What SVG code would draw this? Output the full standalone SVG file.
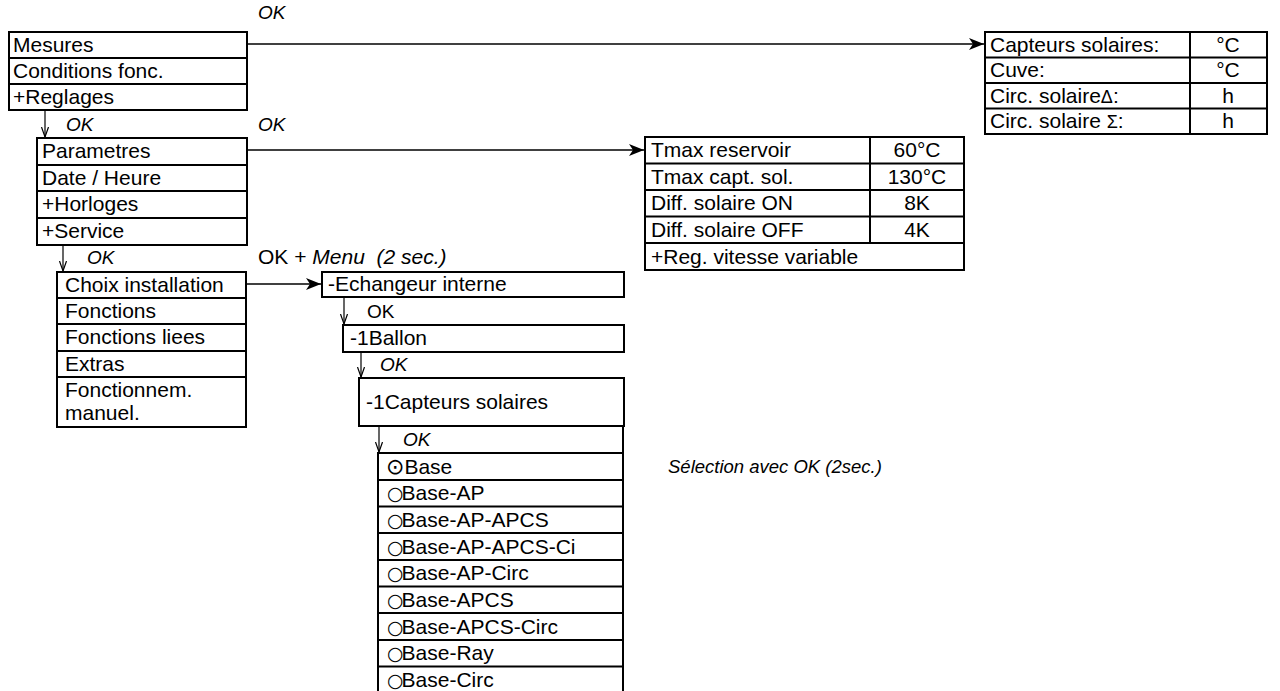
<svg xmlns="http://www.w3.org/2000/svg" width="1280" height="691" viewBox="0 0 1280 691">
<style>
  text { font-family: "Liberation Sans", Arial, sans-serif; font-size: 21px; fill: #000; }
  .it { font-style: italic; }
  .ok { font-size: 19px; }
  .note { font-size: 18.5px; font-style: italic; }
  .c { text-anchor: middle; }
  .box { fill: #fff; stroke: #000; stroke-width: 2; }
  .ln { stroke: #000; stroke-width: 2; fill: none; }
  .conn { stroke: #000; stroke-width: 1.6; fill: none; }
  .thin { stroke: #000; stroke-width: 1.2; fill: none; }
  .sym { font-family: "DejaVu Sans", sans-serif; font-size: 19px; }
  .symd { font-family: "DejaVu Sans", sans-serif; font-size: 22px; }
  .gk { font-size: 18px; }
</style>
<defs>
  <marker id="ah" markerUnits="userSpaceOnUse" markerWidth="16" markerHeight="12" refX="15" refY="6" orient="auto">
    <path d="M0,0 L15,6 L0,12 L4,6 Z" fill="#000"/>
  </marker>
  <marker id="dv" markerUnits="userSpaceOnUse" markerWidth="12" markerHeight="10" refX="10" refY="4" orient="auto">
    <path d="M0,0.5 L10,4 L0,7.5" fill="none" stroke="#000" stroke-width="1.2"/>
  </marker>
</defs>
<rect width="1280" height="691" fill="#fff"/>

<g id="connectors">
  <line class="conn" x1="247" y1="44" x2="984" y2="44" marker-end="url(#ah)"/>
  <line class="conn" x1="247" y1="150" x2="644" y2="150" marker-end="url(#ah)"/>
  <line class="conn" x1="246" y1="284" x2="321" y2="284" marker-end="url(#ah)"/>
  <line class="thin" x1="45" y1="110" x2="45" y2="137" marker-end="url(#dv)"/>
  <line class="thin" x1="63" y1="245" x2="63" y2="271" marker-end="url(#dv)"/>
  <line class="thin" x1="344" y1="297" x2="344" y2="324" marker-end="url(#dv)"/>
  <line class="thin" x1="361" y1="352" x2="361" y2="377" marker-end="url(#dv)"/>
  <line class="thin" x1="379" y1="426" x2="379" y2="452" marker-end="url(#dv)"/>
</g>

<g id="labels">
  <text class="it ok" x="258" y="19">OK</text>
  <text class="it ok" x="66" y="131">OK</text>
  <text class="it ok" x="258" y="131">OK</text>
  <text class="it ok" x="87" y="264">OK</text>
  <text x="258" y="264">OK + <tspan class="it">Menu&#160; (2 sec.)</tspan></text>
  <text class="ok" x="367" y="318">OK</text>
  <text class="it ok" x="380" y="371">OK</text>
  <text class="it ok" x="403" y="446">OK</text>
  <text class="note" x="668" y="473">Sélection avec OK (2sec.)</text>
</g>

<g id="menu-main">
  <rect class="box" x="9" y="32" width="238" height="78"/>
  <line class="ln" x1="9" y1="58" x2="247" y2="58"/>
  <line class="ln" x1="9" y1="84" x2="247" y2="84"/>
  <text x="13" y="52">Mesures</text>
  <text x="13" y="78">Conditions fonc.</text>
  <text x="13" y="104">+Reglages</text>
</g>

<g id="mesures-table">
  <rect class="box" x="985" y="32" width="282" height="102"/>
  <line class="ln" x1="985" y1="57.5" x2="1267" y2="57.5"/>
  <line class="ln" x1="985" y1="83" x2="1267" y2="83"/>
  <line class="ln" x1="985" y1="108.5" x2="1267" y2="108.5"/>
  <line class="ln" x1="1190" y1="32" x2="1190" y2="134"/>
  <text x="990" y="52">Capteurs solaires:</text>
  <text x="990" y="77">Cuve:</text>
  <text x="990" y="103">Circ. solaire<tspan class="gk">Δ</tspan>:</text>
  <text x="990" y="128">Circ. solaire <tspan class="gk">Σ</tspan>:</text>
  <text class="c" x="1228" y="52">°C</text>
  <text class="c" x="1228" y="77">°C</text>
  <text class="c" x="1228" y="103">h</text>
  <text class="c" x="1228" y="128">h</text>
</g>

<g id="menu-reglages">
  <rect class="box" x="37" y="138" width="210" height="107"/>
  <line class="ln" x1="37" y1="165" x2="247" y2="165"/>
  <line class="ln" x1="37" y1="191" x2="247" y2="191"/>
  <line class="ln" x1="37" y1="218" x2="247" y2="218"/>
  <text x="42" y="158">Parametres</text>
  <text x="42" y="185">Date / Heure</text>
  <text x="42" y="211">+Horloges</text>
  <text x="42" y="238">+Service</text>
</g>

<g id="parametres-table">
  <rect class="box" x="645" y="137" width="319" height="133"/>
  <line class="ln" x1="645" y1="163.5" x2="964" y2="163.5"/>
  <line class="ln" x1="645" y1="190" x2="964" y2="190"/>
  <line class="ln" x1="645" y1="216.5" x2="964" y2="216.5"/>
  <line class="ln" x1="645" y1="243" x2="964" y2="243"/>
  <line class="ln" x1="870" y1="137" x2="870" y2="243"/>
  <text x="651" y="157">Tmax reservoir</text>
  <text x="651" y="184">Tmax capt. sol.</text>
  <text x="651" y="210">Diff. solaire ON</text>
  <text x="651" y="237">Diff. solaire OFF</text>
  <text x="651" y="264">+Reg. vitesse variable</text>
  <text class="c" x="917" y="157">60°C</text>
  <text class="c" x="917" y="184">130°C</text>
  <text class="c" x="917" y="210">8K</text>
  <text class="c" x="917" y="237">4K</text>
</g>

<g id="menu-service">
  <rect class="box" x="57" y="272" width="189" height="155"/>
  <line class="ln" x1="57" y1="298" x2="246" y2="298"/>
  <line class="ln" x1="57" y1="324" x2="246" y2="324"/>
  <line class="ln" x1="57" y1="351" x2="246" y2="351"/>
  <line class="ln" x1="57" y1="377" x2="246" y2="377"/>
  <text x="65" y="292">Choix installation</text>
  <text x="65" y="318">Fonctions</text>
  <text x="65" y="344">Fonctions liees</text>
  <text x="65" y="371">Extras</text>
  <text x="65" y="397">Fonctionnem.</text>
  <text x="65" y="420">manuel.</text>
</g>

<g id="echangeur">
  <rect class="box" x="322" y="272" width="302" height="25"/>
  <text x="328" y="291">-Echangeur interne</text>
</g>

<g id="ballon">
  <rect class="box" x="343" y="325" width="281" height="27"/>
  <text x="350" y="345">-1Ballon</text>
</g>

<g id="capteurs">
  <rect class="box" x="359" y="378" width="265" height="48"/>
  <text x="366" y="409">-1Capteurs solaires</text>
</g>

<g id="installations">
  <line class="ln" x1="623" y1="426" x2="623" y2="453"/>
  <rect class="box" x="378" y="453" width="245" height="245"/>
  <line class="ln" x1="378" y1="480" x2="623" y2="480"/>
  <line class="ln" x1="378" y1="506.5" x2="623" y2="506.5"/>
  <line class="ln" x1="378" y1="533" x2="623" y2="533"/>
  <line class="ln" x1="378" y1="560" x2="623" y2="560"/>
  <line class="ln" x1="378" y1="586.5" x2="623" y2="586.5"/>
  <line class="ln" x1="378" y1="613" x2="623" y2="613"/>
  <line class="ln" x1="378" y1="640" x2="623" y2="640"/>
  <line class="ln" x1="378" y1="666.5" x2="623" y2="666.5"/>
  <text x="386" y="474"><tspan class="symd">⊙</tspan><tspan dx="0">Base</tspan></text>
  <text x="387" y="500"><tspan class="sym">○</tspan><tspan dx="-2">Base-AP</tspan></text>
  <text x="387" y="527"><tspan class="sym">○</tspan><tspan dx="-2">Base-AP-APCS</tspan></text>
  <text x="387" y="554"><tspan class="sym">○</tspan><tspan dx="-2">Base-AP-APCS-Ci</tspan></text>
  <text x="387" y="580"><tspan class="sym">○</tspan><tspan dx="-2">Base-AP-Circ</tspan></text>
  <text x="387" y="607"><tspan class="sym">○</tspan><tspan dx="-2">Base-APCS</tspan></text>
  <text x="387" y="634"><tspan class="sym">○</tspan><tspan dx="-2">Base-APCS-Circ</tspan></text>
  <text x="387" y="660"><tspan class="sym">○</tspan><tspan dx="-2">Base-Ray</tspan></text>
  <text x="387" y="687"><tspan class="sym">○</tspan><tspan dx="-2">Base-Circ</tspan></text>
</g>
</svg>
